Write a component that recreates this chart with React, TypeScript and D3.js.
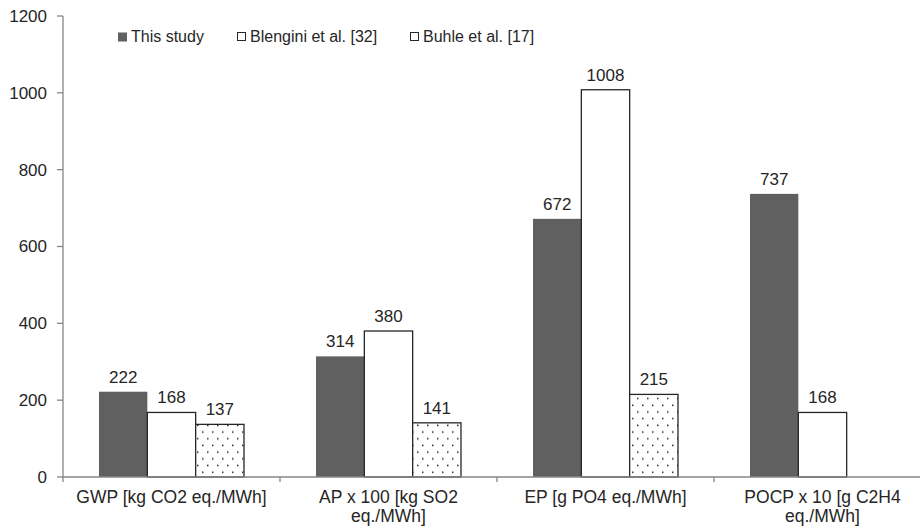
import React from "react";
import * as d3 from "d3";

const categories = [
  ["GWP [kg CO2 eq./MWh]"],
  ["AP x 100 [kg SO2", "eq./MWh]"],
  ["EP [g PO4 eq./MWh]"],
  ["POCP x 10 [g C2H4", "eq./MWh]"],
];
const seriesNames = ["This study", "Blengini et al. [32]", "Buhle et al. [17]"];
const thisStudy = [222, 314, 672, 737];
const blengini = [168, 380, 1008, 168];
const buhle: (number | null)[] = [137, 141, 215, null];
const yTicks = [0, 200, 400, 600, 800, 1000, 1200];

const W = 920;
const H = 528;
const FONT = "'Liberation Sans', Arial, sans-serif";
const TEXT = "#262626";
const AXIS = "#868686";
const DARK = "#606060";
const EDGE = "#262626";

export default function App() {
  const x = d3.scaleBand<number>().domain(d3.range(categories.length)).range([63, 931]).padding(0);
  const y = d3.scaleLinear().domain([0, 1200]).range([477, 16]);
  const inner = d3
    .scaleBand<number>()
    .domain([0, 1, 2])
    .range([0, x.bandwidth()])
    .paddingInner(0)
    .paddingOuter(0.745);
  const series = [thisStudy, blengini, buhle];
  const legendX = [118, 237, 410];

  return (
    <svg width={W} height={H} style={{ position: "absolute", left: 0, top: 0, fontFamily: FONT }}>
      <defs>
        <pattern id="dots" width={10} height={13.4} patternUnits="userSpaceOnUse">
          <rect width={10} height={13.4} fill="#fff" />
          <rect x={2} y={2.5} width={1.5} height={1.5} fill="#222" />
          <rect x={7} y={9.2} width={1.5} height={1.5} fill="#222" />
        </pattern>
      </defs>
      <rect width={W} height={H} fill="#fff" />
      {/* y axis */}
      <line x1={63} x2={63} y1={y(1200)} y2={y(0)} stroke={AXIS} strokeWidth={1.3} />
      {yTicks.map((t) => (
        <g key={t}>
          <line x1={57} x2={63} y1={y(t)} y2={y(t)} stroke={AXIS} strokeWidth={1.3} />
          <text x={47} y={y(t)} dy="0.35em" textAnchor="end" fontSize={17} fill={TEXT}>
            {t}
          </text>
        </g>
      ))}
      {/* bars */}
      {categories.map((_, ci) =>
        series.map((s, si) => {
          const v = s[ci];
          if (v == null) return null;
          const bx = (x(ci) as number) + (inner(si) as number);
          const bw = inner.bandwidth();
          const fill = si === 0 ? DARK : si === 1 ? "#fff" : "url(#dots)";
          return (
            <g key={`${ci}-${si}`}>
              <rect
                x={bx}
                y={y(v)}
                width={bw}
                height={y(0) - y(v)}
                fill={fill}
                stroke={si === 0 ? "none" : EDGE}
                strokeWidth={si === 0 ? 0 : 1.3}
              />
              <text x={bx + bw / 2} y={y(v) - 9} textAnchor="middle" fontSize={17} fill={TEXT}>
                {v}
              </text>
            </g>
          );
        })
      )}
      {/* x axis */}
      <line x1={63} x2={931} y1={y(0)} y2={y(0)} stroke={AXIS} strokeWidth={1.3} />
      {d3.range(categories.length + 1).map((i) => {
        const xx = i < categories.length ? (x(i) as number) : 931;
        return <line key={i} x1={xx} x2={xx} y1={y(0)} y2={y(0) + 5} stroke={AXIS} strokeWidth={1.3} />;
      })}
      {categories.map((lines, ci) => (
        <text key={ci} textAnchor="middle" fontSize={17.5} fill={TEXT}>
          {lines.map((l, li) => (
            <tspan key={li} x={(x(ci) as number) + x.bandwidth() / 2} y={503 + li * 19}>
              {l}
            </tspan>
          ))}
        </text>
      ))}
      {/* legend */}
      {seriesNames.map((n, si) => (
        <g key={n}>
          <rect
            x={legendX[si] + (si === 0 ? 0 : 0.5)}
            y={32.5}
            width={si === 0 ? 9 : 8}
            height={si === 0 ? 9 : 8}
            fill={si === 0 ? DARK : "#fff"}
            stroke={si === 0 ? "none" : EDGE}
            strokeWidth={1}
          />
          <text x={legendX[si] + 13} y={41.5} fontSize={16} fill={TEXT}>
            {n}
          </text>
        </g>
      ))}
    </svg>
  );
}
